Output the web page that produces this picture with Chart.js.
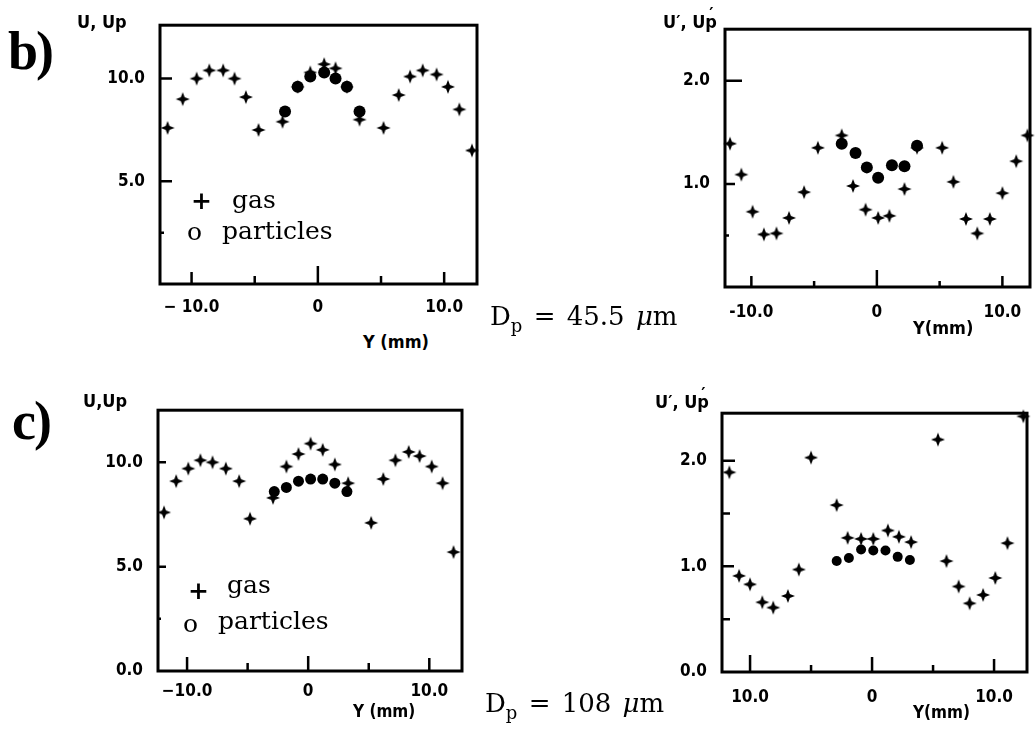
<!DOCTYPE html>
<html>
<head>
<meta charset="utf-8">
<script src="https://cdn.jsdelivr.net/npm/chart.js"></script>
<style>
  body { margin: 0; background: #fff; width: 1036px; height: 729px; position: relative; overflow: hidden; }
  canvas { position: absolute; }
  .t { position: absolute; white-space: nowrap; color: #000; line-height: 1; }
  .ax { font-family: "DejaVu Sans Condensed", "DejaVu Sans", sans-serif; font-weight: bold; font-size: 18px; }
  .lg { font-family: "DejaVu Serif", serif; font-size: 25px; }
  .pl { font-family: "Liberation Serif", serif; font-weight: bold; font-size: 54px; letter-spacing: -2px; }
  .dp { font-family: "DejaVu Serif", serif; font-size: 26px; word-spacing: 3px; }
  .dp sub { font-size: 18px; vertical-align: -7px; line-height: 1; }
  .pr { position: relative; }
  .pr span { position: absolute; left: 4px; top: -6px; }
</style>
</head>
<body>

<canvas id="bLeft" width="397" height="316" style="left:90px;top:8px"></canvas>
<canvas id="bRight" width="381" height="315" style="left:655px;top:12px"></canvas>
<canvas id="cLeft" width="384" height="318" style="left:88px;top:393px"></canvas>
<canvas id="cRight" width="384" height="316" style="left:652px;top:396px"></canvas>

<div class="t pl" style="left:8px;top:24px">b)</div>
<div class="t pl" style="left:12px;top:394px">c)</div>

<div class="t ax" style="left:77px;top:13px">U, Up</div>
<div class="t ax" style="left:83px;top:392px">U,Up</div>
<div class="t ax" style="left:663px;top:13px">U′, U<span class="pr">p<span>′</span></span></div>
<div class="t ax" style="left:655px;top:393px">U′, U<span class="pr">p<span>′</span></span></div>

<div class="t ax" style="left:363px;top:333px">Y (mm)</div>
<div class="t ax" style="left:913px;top:319px">Y(mm)</div>
<div class="t ax" style="left:353px;top:703px;font-size:17px">Y (mm)</div>
<div class="t ax" style="left:913px;top:704px;font-size:17px">Y(mm)</div>

<div class="t lg" style="left:191px;top:188px;font-weight:bold">+</div>
<div class="t lg" style="left:232px;top:187px">gas</div>
<div class="t lg" style="left:187px;top:219px">o</div>
<div class="t lg" style="left:222px;top:218px">particles</div>

<div class="t lg" style="left:188px;top:578px;font-weight:bold">+</div>
<div class="t lg" style="left:227px;top:572px">gas</div>
<div class="t lg" style="left:183px;top:611px">o</div>
<div class="t lg" style="left:218px;top:608px">particles</div>

<div class="t dp" style="left:490px;top:303px">D<sub>p</sub> = 45.5 <i>μ</i>m</div>
<div class="t dp" style="left:485px;top:690px">D<sub>p</sub> = 108 <i>μ</i>m</div>

<script>
// b) Dp = 45.5 um, mean velocity
var bLeftGasX = [-11.9, -10.7, -9.6, -8.6, -7.5, -6.6, -5.7, -4.7, -2.8, -1.6, -0.6, 0.5, 1.4, 2.3, 3.3, 5.2, 6.4, 7.3, 8.3, 9.4, 10.3, 11.2, 12.2];
var bLeftGasY = [7.6, 9.0, 10.0, 10.4, 10.4, 10.0, 9.1, 7.5, 7.9, 9.6, 10.3, 10.7, 10.5, 9.6, 8.0, 7.6, 9.2, 10.1, 10.4, 10.2, 9.6, 8.5, 6.5];
var bLeftPartX = [-2.6, -1.6, -0.6, 0.5, 1.4, 2.3, 3.3];
var bLeftPartY = [8.4, 9.6, 10.1, 10.3, 10.0, 9.6, 8.4];

// b) fluctuations
var bRightGasX = [-11.7, -10.8, -9.9, -9.0, -8.0, -7.0, -5.8, -4.7, -2.8, -1.9, -0.9, 0.1, 1.0, 2.2, 3.2, 5.2, 6.1, 7.1, 8.0, 9.0, 10.0, 11.1, 12.0];
var bRightGasY = [1.39, 1.09, 0.73, 0.51, 0.52, 0.67, 0.92, 1.35, 1.47, 0.98, 0.75, 0.67, 0.69, 0.95, 1.35, 1.35, 1.02, 0.66, 0.52, 0.66, 0.91, 1.22, 1.47];
var bRightPartX = [-2.8, -1.7, -0.8, 0.1, 1.2, 2.2, 3.2];
var bRightPartY = [1.39, 1.30, 1.16, 1.06, 1.18, 1.17, 1.37];

// c) Dp = 108 um, mean velocity
var cLeftGasX = [-11.9, -10.9, -9.9, -8.9, -7.9, -6.8, -5.7, -4.8, -2.9, -1.8, -0.8, 0.2, 1.2, 2.2, 3.3, 5.2, 6.2, 7.2, 8.3, 9.2, 10.2, 11.1, 12.0];
var cLeftGasY = [7.6, 9.1, 9.7, 10.1, 10.0, 9.7, 9.1, 7.3, 8.3, 9.8, 10.4, 10.9, 10.6, 9.9, 9.0, 7.1, 9.2, 10.1, 10.5, 10.3, 9.8, 9.0, 5.7];
var cLeftPartX = [-2.8, -1.8, -0.8, 0.2, 1.2, 2.2, 3.2];
var cLeftPartY = [8.6, 8.8, 9.1, 9.2, 9.2, 9.0, 8.6];

// c) fluctuations
var cRightGasX = [-11.7, -10.9, -10.0, -9.0, -8.1, -6.9, -6.0, -5.0, -2.9, -2.0, -0.9, 0.1, 1.3, 2.2, 3.2, 5.4, 6.1, 7.1, 8.0, 9.1, 10.1, 11.1, 12.4];
var cRightGasY = [1.89, 0.91, 0.83, 0.66, 0.61, 0.72, 0.97, 2.03, 1.58, 1.27, 1.26, 1.26, 1.34, 1.28, 1.23, 2.20, 1.05, 0.81, 0.65, 0.73, 0.89, 1.22, 2.42];
var cRightPartX = [-2.9, -1.9, -0.9, 0.1, 1.1, 2.1, 3.1];
var cRightPartY = [1.05, 1.08, 1.16, 1.15, 1.15, 1.09, 1.06];

// tick positions and labels
var xTickVals = [-10, -5, 0, 5, 10];
var xLabelVals = [-10, 0, 10];
var bLeftXLabels = ['\u2212 10.0', '0', '10.0'];
var bRightXLabels = ['-10.0', '0', '10.0'];
var cLeftXLabels = ['\u221210.0', '0', '10.0'];
var cRightXLabels = ['10.0', '0', '10.0'];

var bLeftYTicks = [2.5, 5, 10];
var bLeftYLabelVals = [5, 10];
var bLeftYLabels = ['5.0', '10.0'];
var cLeftYTicks = [2.5, 5, 10];
var cLeftYLabelVals = [0, 5, 10];
var cLeftYLabels = ['0.0', '5.0', '10.0'];
var bRightYTicks = [0.5, 1, 2];
var bRightYLabelVals = [1, 2];
var bRightYLabels = ['1.0', '2.0'];
var cRightYTicks = [0.5, 1, 1.5, 2];
var cRightYLabelVals = [0, 1, 2];
var cRightYLabels = ['0.0', '1.0', '2.0'];

function pts(xs, ys) {
  return xs.map(function(x, i) { return {x: x, y: ys[i]}; });
}

// gas marker, a fat four pointed star
function starMark(r, inner) {
  var c = document.createElement('canvas');
  c.width = c.height = 2 * r + 2;
  var g = c.getContext('2d');
  var m = r + 1;
  g.beginPath();
  for (var i = 0; i < 8; i++) {
    var a = i * Math.PI / 4 - Math.PI / 2;
    var rr = (i % 2) ? inner : r;
    g.lineTo(m + rr * Math.cos(a), m + rr * Math.sin(a));
  }
  g.closePath();
  g.fillStyle = '#000';
  g.fill();
  return c;
}
var star = starMark(7, 2.7);

var frame = {
  id: 'frame',
  afterDatasetsDraw: function(chart, args, opts) {
    var ctx = chart.ctx, a = chart.chartArea;
    var x = chart.scales.x, y = chart.scales.y;
    ctx.save();
    ctx.strokeStyle = '#000';
    ctx.lineWidth = 3;
    ctx.strokeRect(a.left, a.top, a.right - a.left, a.bottom - a.top);
    ctx.beginPath();
    opts.xTicks.forEach(function(v, i) {
      var px = x.getPixelForValue(v);
      ctx.moveTo(px, a.bottom);
      ctx.lineTo(px, a.bottom - opts.xLen[i]);
    });
    opts.yTicks.forEach(function(v, i) {
      var py = y.getPixelForValue(v);
      ctx.moveTo(a.left, py);
      ctx.lineTo(a.left + opts.yLen[i], py);
    });
    ctx.lineWidth = 2.5;
    ctx.stroke();
    ctx.restore();
  }
};
Chart.register(frame);

var tickFont = {family: "'DejaVu Sans Condensed', 'DejaVu Sans', sans-serif", size: 17, weight: 'bold'};

function makeChart(id, p) {
  new Chart(document.getElementById(id), {
    type: 'scatter',
    data: {
      datasets: [
        {label: 'gas', data: pts(p.gx, p.gy), pointStyle: star, clip: false},
        {label: 'particles', data: pts(p.px, p.py), pointStyle: 'circle', pointRadius: p.dot,
         backgroundColor: '#000', borderWidth: 0, clip: false}
      ]
    },
    options: {
      responsive: false,
      animation: false,
      devicePixelRatio: 1,
      events: [],
      layout: {padding: {top: 10, right: p.padRight, left: 0, bottom: 0}},
      plugins: {
        legend: {display: false},
        tooltip: {enabled: false},
        frame: {xTicks: xTickVals, xLen: p.xLen, yTicks: p.yTicks, yLen: p.yLen}
      },
      scales: {
        x: {
          type: 'linear', min: p.xmin, max: p.xmax,
          afterFit: function(s) { s.height = 40; },
          afterBuildTicks: function(s) { s.ticks = xLabelVals.map(function(v) { return {value: v}; }); },
          grid: {display: false}, border: {display: false},
          ticks: {color: '#000', font: tickFont, padding: p.xPad, autoSkip: false, maxRotation: 0,
                  callback: function(v, i) { return p.xLabels[i]; }}
        },
        y: {
          type: 'linear', min: p.ymin, max: p.ymax,
          afterFit: function(s) { s.width = 70; },
          afterBuildTicks: function(s) { s.ticks = p.yLabelVals.map(function(v) { return {value: v}; }); },
          grid: {display: false}, border: {display: false},
          ticks: {color: '#000', font: tickFont, padding: 7,
                  callback: function(v, i) { return p.yLabels[i]; }}
        }
      }
    }
  });
}

makeChart('bLeft', {gx: bLeftGasX, gy: bLeftGasY, px: bLeftPartX, py: bLeftPartY, dot: 6,
  xmin: -12.5, xmax: 12.6, ymin: 0, ymax: 12.6, padRight: 10, xPad: 5,
  xLabels: bLeftXLabels, yLabelVals: bLeftYLabelVals, yLabels: bLeftYLabels,
  xLen: [12, 8, 18, 8, 12], yTicks: bLeftYTicks, yLen: [4, 12, 12]});

makeChart('bRight', {gx: bRightGasX, gy: bRightGasY, px: bRightPartX, py: bRightPartY, dot: 6,
  xmin: -12.1, xmax: 12.2, ymin: 0, ymax: 2.5, padRight: 1, xPad: 7,
  xLabels: bRightXLabels, yLabelVals: bRightYLabelVals, yLabels: bRightYLabels,
  xLen: [11, 6, 17, 6, 11], yTicks: bRightYTicks, yLen: [4, 10, 17]});

makeChart('cLeft', {gx: cLeftGasX, gy: cLeftGasY, px: cLeftPartX, py: cLeftPartY, dot: 5.5,
  xmin: -12.4, xmax: 12.7, ymin: 0, ymax: 12.5, padRight: 10, xPad: 2,
  xLabels: cLeftXLabels, yLabelVals: cLeftYLabelVals, yLabels: cLeftYLabels,
  xLen: [14, 8, 15, 8, 13], yTicks: cLeftYTicks, yLen: [3, 8, 8]});

makeChart('cRight', {gx: cRightGasX, gy: cRightGasY, px: cRightPartX, py: cRightPartY, dot: 5,
  xmin: -12.3, xmax: 12.7, ymin: 0, ymax: 2.45, padRight: 9, xPad: 7,
  xLabels: cRightXLabels, yLabelVals: cRightYLabelVals, yLabels: cRightYLabels,
  xLen: [17, 7, 15, 7, 13], yTicks: cRightYTicks, yLen: [8, 12, 8, 13]});
</script>
</body>
</html>
